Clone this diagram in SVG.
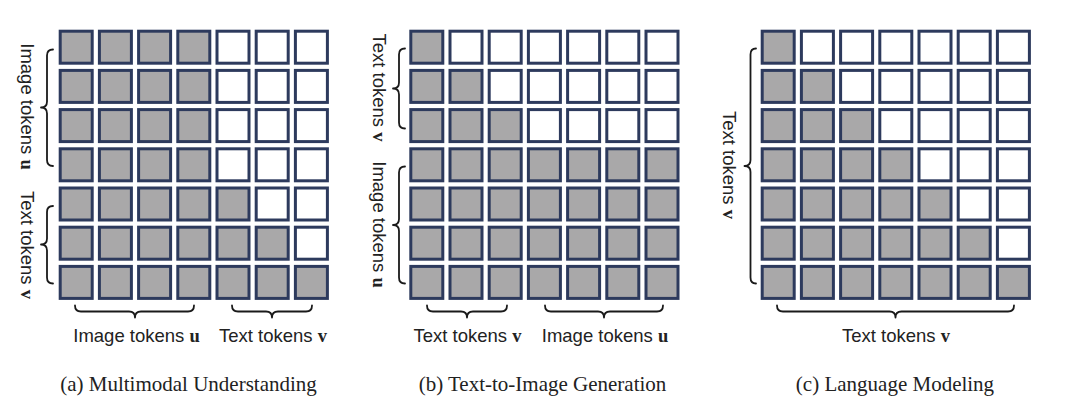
<svg xmlns="http://www.w3.org/2000/svg" xmlns:xlink="http://www.w3.org/1999/xlink" width="1080" height="419" viewBox="0 0 1080 419">
<style>
.g{fill:#a9a8a9;stroke:#2d3a5d;stroke-width:3}
.w{fill:#ffffff;stroke:#2d3a5d;stroke-width:3}
.br{fill:none;stroke:#1a1a1a;stroke-width:1.8;stroke-linecap:round;stroke-linejoin:round}
.lbl{font-family:"Liberation Sans",Arial,sans-serif;font-size:18.5px;fill:#222}
.b{font-family:"Liberation Serif","Times New Roman",serif;font-weight:bold}
.cap{font-family:"Liberation Serif","Times New Roman",serif;font-size:21px;fill:#222;text-anchor:middle}
</style>
<defs>
<rect id="G" class="g" width="32" height="32"/>
<rect id="W" class="w" width="32" height="32"/>
</defs>
<rect width="1080" height="419" fill="#fff"/>

<g id="panel-a">
<g id="grid-a">
<use href="#G" x="60.2" y="31.2"/><use href="#G" x="99.4" y="31.2"/><use href="#G" x="138.6" y="31.2"/><use href="#G" x="177.8" y="31.2"/><use href="#W" x="217" y="31.2"/><use href="#W" x="256.2" y="31.2"/><use href="#W" x="295.4" y="31.2"/>
<use href="#G" x="60.2" y="70.4"/><use href="#G" x="99.4" y="70.4"/><use href="#G" x="138.6" y="70.4"/><use href="#G" x="177.8" y="70.4"/><use href="#W" x="217" y="70.4"/><use href="#W" x="256.2" y="70.4"/><use href="#W" x="295.4" y="70.4"/>
<use href="#G" x="60.2" y="109.6"/><use href="#G" x="99.4" y="109.6"/><use href="#G" x="138.6" y="109.6"/><use href="#G" x="177.8" y="109.6"/><use href="#W" x="217" y="109.6"/><use href="#W" x="256.2" y="109.6"/><use href="#W" x="295.4" y="109.6"/>
<use href="#G" x="60.2" y="148.8"/><use href="#G" x="99.4" y="148.8"/><use href="#G" x="138.6" y="148.8"/><use href="#G" x="177.8" y="148.8"/><use href="#W" x="217" y="148.8"/><use href="#W" x="256.2" y="148.8"/><use href="#W" x="295.4" y="148.8"/>
<use href="#G" x="60.2" y="188"/><use href="#G" x="99.4" y="188"/><use href="#G" x="138.6" y="188"/><use href="#G" x="177.8" y="188"/><use href="#G" x="217" y="188"/><use href="#W" x="256.2" y="188"/><use href="#W" x="295.4" y="188"/>
<use href="#G" x="60.2" y="227.2"/><use href="#G" x="99.4" y="227.2"/><use href="#G" x="138.6" y="227.2"/><use href="#G" x="177.8" y="227.2"/><use href="#G" x="217" y="227.2"/><use href="#G" x="256.2" y="227.2"/><use href="#W" x="295.4" y="227.2"/>
<use href="#G" x="60.2" y="266.4"/><use href="#G" x="99.4" y="266.4"/><use href="#G" x="138.6" y="266.4"/><use href="#G" x="177.8" y="266.4"/><use href="#G" x="217" y="266.4"/><use href="#G" x="256.2" y="266.4"/><use href="#G" x="295.4" y="266.4"/>
</g>
<g id="braces-a">
<path class="br" d="M53 49.5 Q47 49.5 47 55.5 L47 101.5 Q47 107.5 41 107.5 Q47 107.5 47 113.5 L47 160 Q47 166 53 166"/>
<path class="br" d="M53 206 Q47 206 47 212 L47 238.5 Q47 244.5 41 244.5 Q47 244.5 47 250.5 L47 277.5 Q47 283.5 53 283.5"/>
<path class="br" d="M75 305.5 Q75 311.5 81 311.5 L129 311.5 Q135 311.5 135 317.5 Q135 311.5 141 311.5 L188 311.5 Q194 311.5 194 305.5"/>
<path class="br" d="M232 305.5 Q232 311.5 238 311.5 L266 311.5 Q272 311.5 272 317.5 Q272 311.5 278 311.5 L306 311.5 Q312 311.5 312 305.5"/>
</g>
<text class="lbl" text-anchor="middle" transform="translate(21,106.5) rotate(90)">Image tokens <tspan class="b">u</tspan></text>
<text class="lbl" text-anchor="middle" transform="translate(21,245) rotate(90)">Text tokens <tspan class="b">v</tspan></text>
<text class="lbl" text-anchor="middle" x="136.5" y="341.5">Image tokens <tspan class="b">u</tspan></text>
<text class="lbl" text-anchor="middle" x="273" y="341.5">Text tokens <tspan class="b">v</tspan></text>
<text class="cap" x="188.5" y="391">(a) Multimodal Understanding</text>
</g>

<g id="panel-b">
<g id="grid-b">
<use href="#G" x="410.8" y="31.2"/><use href="#W" x="450" y="31.2"/><use href="#W" x="489.2" y="31.2"/><use href="#W" x="528.4" y="31.2"/><use href="#W" x="567.6" y="31.2"/><use href="#W" x="606.8" y="31.2"/><use href="#W" x="646" y="31.2"/>
<use href="#G" x="410.8" y="70.4"/><use href="#G" x="450" y="70.4"/><use href="#W" x="489.2" y="70.4"/><use href="#W" x="528.4" y="70.4"/><use href="#W" x="567.6" y="70.4"/><use href="#W" x="606.8" y="70.4"/><use href="#W" x="646" y="70.4"/>
<use href="#G" x="410.8" y="109.6"/><use href="#G" x="450" y="109.6"/><use href="#G" x="489.2" y="109.6"/><use href="#W" x="528.4" y="109.6"/><use href="#W" x="567.6" y="109.6"/><use href="#W" x="606.8" y="109.6"/><use href="#W" x="646" y="109.6"/>
<use href="#G" x="410.8" y="148.8"/><use href="#G" x="450" y="148.8"/><use href="#G" x="489.2" y="148.8"/><use href="#G" x="528.4" y="148.8"/><use href="#G" x="567.6" y="148.8"/><use href="#G" x="606.8" y="148.8"/><use href="#G" x="646" y="148.8"/>
<use href="#G" x="410.8" y="188"/><use href="#G" x="450" y="188"/><use href="#G" x="489.2" y="188"/><use href="#G" x="528.4" y="188"/><use href="#G" x="567.6" y="188"/><use href="#G" x="606.8" y="188"/><use href="#G" x="646" y="188"/>
<use href="#G" x="410.8" y="227.2"/><use href="#G" x="450" y="227.2"/><use href="#G" x="489.2" y="227.2"/><use href="#G" x="528.4" y="227.2"/><use href="#G" x="567.6" y="227.2"/><use href="#G" x="606.8" y="227.2"/><use href="#G" x="646" y="227.2"/>
<use href="#G" x="410.8" y="266.4"/><use href="#G" x="450" y="266.4"/><use href="#G" x="489.2" y="266.4"/><use href="#G" x="528.4" y="266.4"/><use href="#G" x="567.6" y="266.4"/><use href="#G" x="606.8" y="266.4"/><use href="#G" x="646" y="266.4"/>
</g>
<g id="braces-b">
<path class="br" d="M405 48.5 Q399 48.5 399 54.5 L399 82.5 Q399 88.5 393 88.5 Q399 88.5 399 94.5 L399 122.5 Q399 128.5 405 128.5"/>
<path class="br" d="M405 166.5 Q399 166.5 399 172.5 L399 219 Q399 225 393 225 Q399 225 399 231 L399 277.5 Q399 283.5 405 283.5"/>
<path class="br" d="M427 305.5 Q427 311.5 433 311.5 L461 311.5 Q467 311.5 467 317.5 Q467 311.5 473 311.5 L501 311.5 Q507 311.5 507 305.5"/>
<path class="br" d="M545 305.5 Q545 311.5 551 311.5 L598 311.5 Q604 311.5 604 317.5 Q604 311.5 610 311.5 L657 311.5 Q663 311.5 663 305.5"/>
</g>
<text class="lbl" text-anchor="middle" transform="translate(373,87.5) rotate(90)">Text tokens <tspan class="b">v</tspan></text>
<text class="lbl" text-anchor="middle" transform="translate(373,224.5) rotate(90)">Image tokens <tspan class="b">u</tspan></text>
<text class="lbl" text-anchor="middle" x="467.5" y="341.5">Text tokens <tspan class="b">v</tspan></text>
<text class="lbl" text-anchor="middle" x="605" y="341.5">Image tokens <tspan class="b">u</tspan></text>
<text class="cap" x="542.5" y="391">(b) Text-to-Image Generation</text>
</g>

<g id="panel-c">
<g id="grid-c">
<use href="#G" x="762.2" y="31.2"/><use href="#W" x="801.4" y="31.2"/><use href="#W" x="840.6" y="31.2"/><use href="#W" x="879.8" y="31.2"/><use href="#W" x="919" y="31.2"/><use href="#W" x="958.2" y="31.2"/><use href="#W" x="997.4" y="31.2"/>
<use href="#G" x="762.2" y="70.4"/><use href="#G" x="801.4" y="70.4"/><use href="#W" x="840.6" y="70.4"/><use href="#W" x="879.8" y="70.4"/><use href="#W" x="919" y="70.4"/><use href="#W" x="958.2" y="70.4"/><use href="#W" x="997.4" y="70.4"/>
<use href="#G" x="762.2" y="109.6"/><use href="#G" x="801.4" y="109.6"/><use href="#G" x="840.6" y="109.6"/><use href="#W" x="879.8" y="109.6"/><use href="#W" x="919" y="109.6"/><use href="#W" x="958.2" y="109.6"/><use href="#W" x="997.4" y="109.6"/>
<use href="#G" x="762.2" y="148.8"/><use href="#G" x="801.4" y="148.8"/><use href="#G" x="840.6" y="148.8"/><use href="#G" x="879.8" y="148.8"/><use href="#W" x="919" y="148.8"/><use href="#W" x="958.2" y="148.8"/><use href="#W" x="997.4" y="148.8"/>
<use href="#G" x="762.2" y="188"/><use href="#G" x="801.4" y="188"/><use href="#G" x="840.6" y="188"/><use href="#G" x="879.8" y="188"/><use href="#G" x="919" y="188"/><use href="#W" x="958.2" y="188"/><use href="#W" x="997.4" y="188"/>
<use href="#G" x="762.2" y="227.2"/><use href="#G" x="801.4" y="227.2"/><use href="#G" x="840.6" y="227.2"/><use href="#G" x="879.8" y="227.2"/><use href="#G" x="919" y="227.2"/><use href="#G" x="958.2" y="227.2"/><use href="#W" x="997.4" y="227.2"/>
<use href="#G" x="762.2" y="266.4"/><use href="#G" x="801.4" y="266.4"/><use href="#G" x="840.6" y="266.4"/><use href="#G" x="879.8" y="266.4"/><use href="#G" x="919" y="266.4"/><use href="#G" x="958.2" y="266.4"/><use href="#G" x="997.4" y="266.4"/>
</g>
<g id="braces-c">
<path class="br" d="M756 48.5 Q750.5 48.5 750.5 54.5 L750.5 160 Q750.5 166 744.5 166 Q750.5 166 750.5 172 L750.5 277.5 Q750.5 283.5 756 283.5"/>
<path class="br" d="M777 305.5 Q777 311.5 783 311.5 L889.5 311.5 Q895.5 311.5 895.5 317.5 Q895.5 311.5 901.5 311.5 L1008 311.5 Q1014 311.5 1014 305.5"/>
</g>
<text class="lbl" text-anchor="middle" transform="translate(723,165) rotate(90)">Text tokens <tspan class="b">v</tspan></text>
<text class="lbl" text-anchor="middle" x="896" y="341.5">Text tokens <tspan class="b">v</tspan></text>
<text class="cap" x="895" y="391">(c) Language Modeling</text>
</g>
</svg>
